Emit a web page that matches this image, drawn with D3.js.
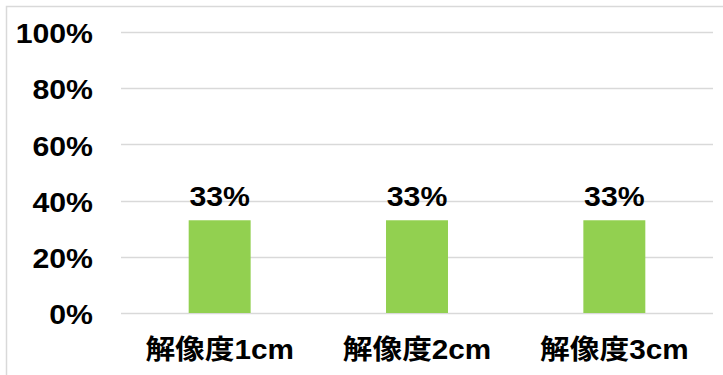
<!DOCTYPE html>
<html>
<head>
<meta charset="utf-8">
<script src="https://cdn.jsdelivr.net/npm/d3@7"></script>
<style>
  html, body { margin: 0; padding: 0; background: #fff; }
  svg { display: block; }
  text { font-family: "Liberation Sans", Arial, "Noto Sans CJK JP", sans-serif; font-weight: bold; fill: #000; }
</style>
</head>
<body>
<svg id="chart" width="723" height="375"></svg>
<script>
const categories = ["解像度1cm", "解像度2cm", "解像度3cm"];
const values = [33, 33, 33];
const tickValues = [0, 20, 40, 60, 80, 100];

const svg = d3.select("#chart");
const W = 723, H = 375;
const plot = { left: 121, right: 713, top: 32, bottom: 313 };
const stretch = "scale(1.08,1)";

// chart frame
svg.append("rect")
  .attr("x", 6.5).attr("y", 6.5)
  .attr("width", W + 20).attr("height", H + 20)
  .attr("fill", "#fff")
  .attr("stroke", "#d9d9d9")
  .attr("stroke-width", 1.5);

const x = d3.scaleBand().domain(categories).range([plot.left, plot.right]).paddingInner(0.686).paddingOuter(0.343);
const y = d3.scaleLinear().domain([0, 100]).range([plot.bottom, plot.top]);

// gridlines
svg.append("g").selectAll("line").data(tickValues).join("line")
  .attr("x1", plot.left).attr("x2", plot.right)
  .attr("y1", d => Math.round(y(d)) + 0.5).attr("y2", d => Math.round(y(d)) + 0.5)
  .attr("stroke", "#d9d9d9").attr("stroke-width", 1.3);

// y axis labels
const yAxis = d3.axisLeft(y).tickValues(tickValues).tickFormat(d => d + "%").tickSize(0).tickPadding(0);
const gy = svg.append("g").attr("transform", "translate(93,0)").call(yAxis);
gy.select(".domain").remove();
gy.attr("font-family", null).attr("font-size", null);
gy.selectAll("text").attr("font-size", 28).attr("fill", "#000").attr("dy", "0.38em").attr("transform", stretch);

// x axis labels
const xAxis = d3.axisBottom(x).tickSize(0).tickPadding(0);
const gx = svg.append("g").attr("transform", "translate(0,359)").call(xAxis);
gx.select(".domain").remove();
gx.attr("font-family", null).attr("font-size", null);
gx.selectAll("text").attr("font-size", 27).attr("fill", "#000").attr("dy", 0).attr("y", 0).attr("transform", "scale(1.1,1)");

// bars
svg.append("g").selectAll("rect").data(values).join("rect")
  .attr("x", (d, i) => x(categories[i]))
  .attr("width", x.bandwidth())
  .attr("y", d => y(d))
  .attr("height", d => y(0) - y(d))
  .attr("fill", "#92d050");

// value labels
svg.append("g").selectAll("text").data(values).join("text")
  .attr("transform", (d, i) => `translate(${x(categories[i]) + x.bandwidth() / 2},${y(d) - 14}) ${stretch}`)
  .attr("text-anchor", "middle")
  .attr("font-size", 28)
  .text(d => d + "%");
</script>
</body>
</html>
